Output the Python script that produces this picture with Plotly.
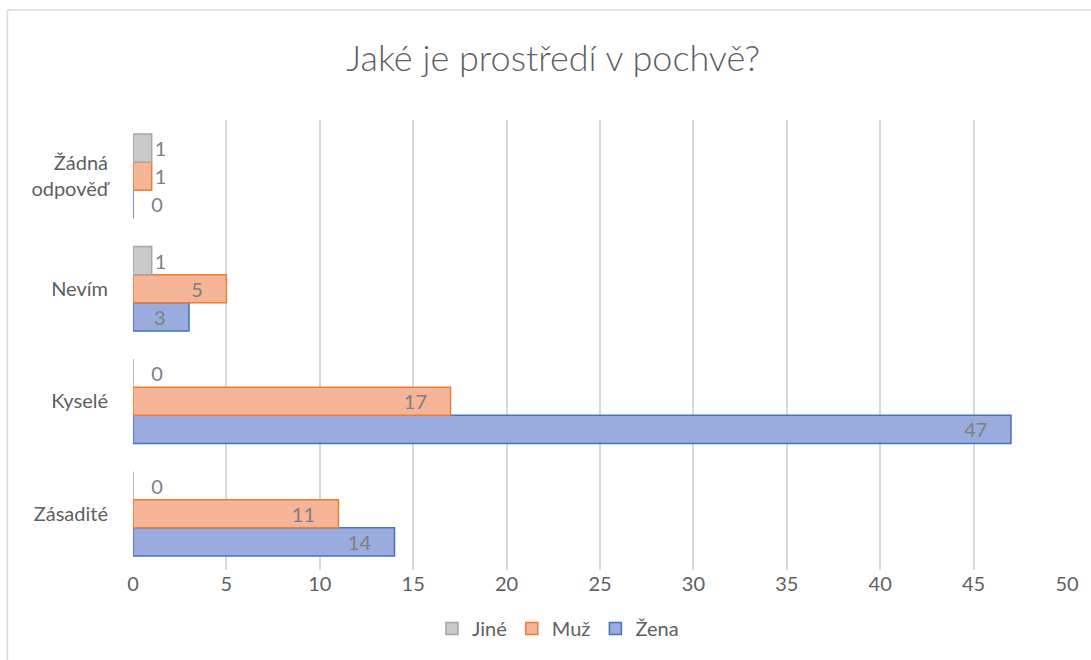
import plotly.graph_objects as go

categories = ["Zásadité", "Kyselé", "Nevím", "Žádná<br>odpověď"]
zena = [14, 47, 3, 0]
muz = [11, 17, 5, 1]
jine = [0, 0, 1, 1]
x_ticks = [0, 5, 10, 15, 20, 25, 30, 35, 40, 45, 50]

FONT = "Lato, Carlito, Calibri, sans-serif"
TXT = "#5f5f5f"
NB = "\u00a0"

def positions(vals):
    return ["inside" if v >= 3 else "outside" for v in vals]

def labels(vals):
    out = []
    for v in vals:
        if v >= 3:
            out.append(f"{v}{NB*4}")
        elif v == 0:
            out.append(f"{NB*3}{v}")
        else:
            out.append(f"{v}")
    return out

series = [
    ("Žena", zena, "#9aabdd", "#4472c4"),
    ("Muž", muz, "#f5b596", "#ed7d31"),
    ("Jiné", jine, "#c9c9c9", "#a5a5a5"),
]

fig = go.Figure()
for name, vals, fill, line in series:
    fig.add_trace(go.Bar(
        y=categories, x=vals, name=name, orientation="h",
        marker=dict(color=fill, line=dict(color=line, width=1.5)),
        text=labels(vals), textposition=positions(vals), textangle=0,
        insidetextanchor="end", constraintext="none",
        textfont=dict(family=FONT, size=20, color="#7f7f7f"),
        cliponaxis=False,
    ))

fig.update_layout(
    width=1091, height=660,
    paper_bgcolor="white", plot_bgcolor="white",
    barmode="group", bargap=0.25, bargroupgap=0,
    margin=dict(l=133, r=21, t=120, b=90),
    title=dict(text="Jaké je prostředí v pochvě?", x=0.507, xanchor="center",
               y=0.912, yanchor="middle",
               font=dict(family=FONT, size=36, color=TXT, weight=300)),
    font=dict(family=FONT, size=20, color=TXT),
    legend=dict(orientation="h", x=0.455, xanchor="center", y=-0.13, yanchor="middle",
                traceorder="reversed", font=dict(family=FONT, size=20, color=TXT),
                itemwidth=30),
    xaxis=dict(range=[0, 50], tickvals=x_ticks, showgrid=True, gridcolor="#d9d9d9",
               gridwidth=1.5, zeroline=False, showline=False, ticks="",
               tickfont=dict(family=FONT, size=20, color=TXT)),
    yaxis=dict(showgrid=False, zeroline=False, showline=False, ticks="",
               ticklabelstandoff=24,
               tickfont=dict(family=FONT, size=20, color=TXT)),
)

# outer chart border (top and left edges visible)
fig.add_shape(type="line", xref="paper", yref="paper",
              x0=-126/937, x1=1091/937, y0=1 + 110/450, y1=1 + 110/450,
              line=dict(color="#d9d9d9", width=1.5))
fig.add_shape(type="line", xref="paper", yref="paper",
              x0=-126/937, x1=-126/937, y0=1 + 110/450, y1=-100/450,
              line=dict(color="#d9d9d9", width=1.5))

fig.write_html("out.html")
